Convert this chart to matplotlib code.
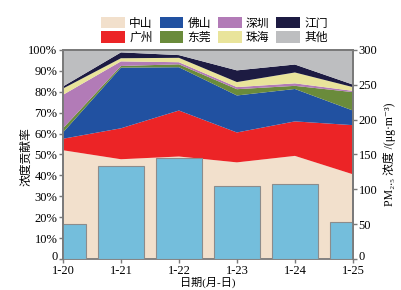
import matplotlib
matplotlib.use("Agg")
import matplotlib.pyplot as plt
import matplotlib.transforms as mtransforms
import numpy as np

plt.rcParams['font.family'] = ['Liberation Serif', 'DejaVu Serif', 'Noto Sans CJK SC']
plt.rcParams['axes.unicode_minus'] = False

# data
dates = ['1-20', '1-21', '1-22', '1-23', '1-24', '1-25']
cities = ['中山', '广州', '佛山', '东莞', '深圳', '珠海', '江门', '其他']
zhongshan = [52.0, 47.7, 49.0, 46.2, 49.3, 40.5]
guangzhou = [5.5, 14.8, 22.0, 14.3, 16.5, 23.5]
foshan = [3.0, 29.0, 20.7, 17.7, 15.5, 7.0]
dongguan = [2.0, 0.8, 1.4, 3.0, 1.5, 8.8]
shenzhen = [16.0, 2.2, 1.0, 1.0, 1.2, 0.6]
zhuhai = [3.0, 1.5, 2.1, 2.4, 5.2, 1.8]
jiangmen = [1.0, 2.8, 1.3, 5.6, 3.8, 1.2]
others = [17.5, 1.2, 2.5, 9.8, 7.0, 16.6]
pm25 = [50, 133, 145, 105, 107, 53]

colors = ['#F2E0CC', '#EC2426', '#2151A1', '#6A8B3B', '#B27BB7',
          '#E9E49B', '#1D1B42', '#BDBEC0']
bar_color = '#74BEDC'
spine_color = '#7A7A7A'

x = np.arange(len(dates))

fig = plt.figure(figsize=(4.01, 2.90), dpi=100)
ax = fig.add_axes([0.157, 0.107, 0.723, 0.721])

shares = [zhongshan, guangzhou, foshan, dongguan, shenzhen, zhuhai, jiangmen, others]
polys = ax.stackplot(x, *shares, colors=colors, linewidth=0, labels=cities)

ax.set_xlim(0, 5)
ax.set_ylim(0, 100)
ax.set_xticks(x)
ax.set_xticklabels(dates, fontsize=9)
ax.set_yticks(np.arange(0, 101, 10))
ax.set_yticklabels(['0'] + [f'{v}%' for v in range(10, 101, 10)], fontsize=9)
ax.set_ylabel('浓度贡献率', fontsize=8.5)
ax.yaxis.set_label_coords(-0.105, 0.49)
ax.set_xlabel('日期(月-日)', fontsize=8)
ax.xaxis.set_label_coords(0.5, -0.083)
ax.tick_params(axis='y', length=3, width=1, color=spine_color, pad=1)
ax.tick_params(axis='x', length=3, width=1, color=spine_color, pad=1.5)

ax2 = ax.twinx()
ax2.bar(x, pm25, width=0.8, color=bar_color, edgecolor='#8C8C8C', linewidth=0.8)
ax2.set_ylim(0, 300)
ax2.set_yticks(np.arange(0, 301, 50))
ax2.tick_params(axis='y', labelsize=9, length=3, width=1, color=spine_color, pad=1)
ax2.set_ylabel('PM₂.₅ 浓度 /(μg·m⁻³)', fontsize=8.5, labelpad=4)
ax2.spines['bottom'].set_visible(False)

# lift the two "0" labels a touch so they clear the date labels
lift = mtransforms.ScaledTranslation(0, 2.5 / 72, fig.dpi_scale_trans)
for lab in (ax.get_yticklabels()[0], ax2.get_yticklabels()[0]):
    lab.set_transform(lab.get_transform() + lift)

for a in (ax, ax2):
    for s in a.spines.values():
        s.set_color(spine_color)
        s.set_linewidth(1.3)

fig.legend(polys, cities, loc='center', bbox_to_anchor=(0.535, 0.895), ncol=4,
           frameon=False, fontsize=8.5, handlelength=2.0, handleheight=1.1,
           handletextpad=0.35, columnspacing=0.6, labelspacing=0.15,
           borderaxespad=0)

fig.savefig('out.png', dpi=100)
